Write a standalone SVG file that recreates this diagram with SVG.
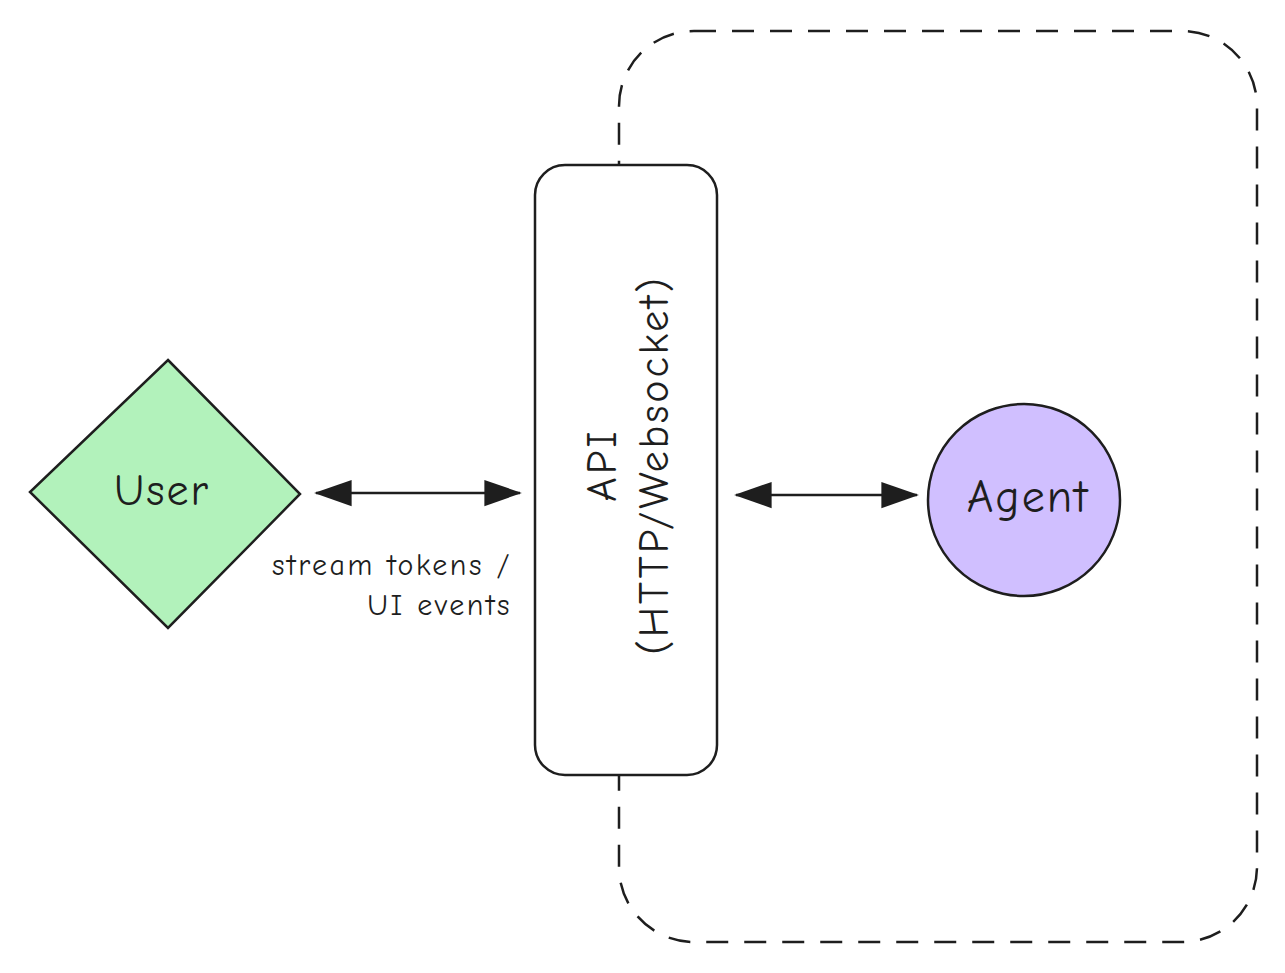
<svg xmlns="http://www.w3.org/2000/svg" width="1285" height="973" viewBox="0 0 1285 973">
<style>
.s{stroke:#1e1e1e;stroke-width:2.5}
.t{font-family:"Comic Neue","Liberation Sans",sans-serif;fill:#1e1e1e}
</style>
<defs>
<marker id="a" viewBox="0 0 20 20" refX="19" refY="10" markerWidth="15" markerHeight="15" orient="auto-start-reverse" markerUnits="strokeWidth">
<path d="M0,3 L20,10 L0,17 Z" fill="#1e1e1e"/>
</marker>
</defs>
<rect width="1285" height="973" fill="#fff"/>
<g id="boundary"><rect x="619" y="31" width="638" height="911" rx="75" class="s" fill="none" stroke-dasharray="22 16"/></g>
<g id="api">
<rect x="535" y="165" width="182" height="610" rx="30" fill="#fff" class="s"/>
<text class="t" font-size="42" letter-spacing="3" text-anchor="middle" transform="translate(628,465) rotate(-90)"><tspan x="0" y="-12">API</tspan><tspan x="0" y="40">(HTTP/Websocket)</tspan></text>
</g>
<g id="user">
<polygon points="168,360 300,494 168,628 30,492" fill="#b2f2bb" class="s"/>
<text class="t" x="162" y="505" font-size="44" letter-spacing="2" text-anchor="middle">User</text>
</g>
<g id="agent">
<circle cx="1024" cy="500" r="96" fill="#d0bfff" class="s"/>
<text class="t" x="1028" y="512" font-size="46" letter-spacing="2" text-anchor="middle">Agent</text>
</g>
<g id="connectors">
<line x1="316" y1="493" x2="520" y2="493" class="s" stroke-width="3" marker-start="url(#a)" marker-end="url(#a)"/>
<line x1="736" y1="495" x2="917" y2="495" class="s" stroke-width="3" marker-start="url(#a)" marker-end="url(#a)"/>
<text class="t" font-size="30" letter-spacing="2.5" text-anchor="end"><tspan x="512" y="575">stream tokens /</tspan><tspan x="512" y="615">UI events</tspan></text>
</g>
</svg>
